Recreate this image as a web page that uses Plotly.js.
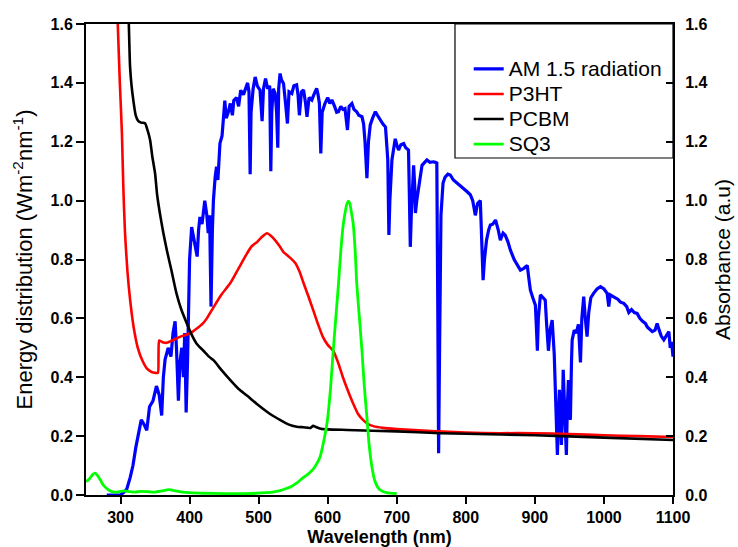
<!DOCTYPE html>
<html>
<head>
<meta charset="utf-8">
<script src="https://cdn.plot.ly/plotly-3.0.1.min.js"></script>
<style>html,body{margin:0;padding:0;background:#fff}#chart{width:738px;height:547px}</style>
</head>
<body>
<div id="chart"></div>
<script>
// AM 1.5 solar radiation (Wm-2 nm-1)
const am15Wl = [280,300,305,309,314,318,322,326,330,334,338,342,347,352,356,359.6,362,364.5,369,373,376,379,381,383.8,386,388.7,391,393,395,397,398,400,403,406,408,411,413,415,418,422,425,427,429,431,433,434.5,437,439,441,444,447,451,453,456,459,462,464,468,471,474,478,481,484,486,487.7,489,492,495,498,502,505,507,510,513,516,517.6,519,521,524,526,527.7,529,531,533,536,539,541.7,544,548,551,555,557,559,562,565,568,570,573,577,580,584,586,588,590,592,596,600,603,606,610,613,615.6,619,622,625,628.6,631,635,638,642,645,649.6,652,654,656.8,659,661.6,665,669,672,676,680,683.7,686,687,688.6,690,693,696,697.8,700,702.6,706,710,713,717,718,719.6,721,724.4,726,727,729,731.7,734,736.6,740,743.6,748,753,756,758,759.5,760.6,762,764,767,770,774,777.5,782,787,792,797,802,806.5,810,813.8,817,821,823,825,827,830,833,835.5,839,843,847,850,854,857,861,864.5,870,875,879,884,889,891,893.5,897,900.7,902,903.6,905,908,912,915,917,919.6,922,925,928,930,932.6,934,935.5,937,938.4,940,941,943,945.6,947,948.6,950,951.4,953,954,957,960,963,966,968,970.7,973,975.6,978,981,985,990,995,1000,1004.6,1007,1009,1014,1020,1024,1028.7,1033,1036,1040,1044,1048,1052,1056,1060,1063,1066,1070,1074,1077,1080,1083,1086.7,1090,1094,1096,1098,1100];
const am15Val = [0,0,0.01,0.02,0.06,0.10,0.16,0.21,0.255,0.24,0.22,0.30,0.32,0.37,0.34,0.27,0.40,0.46,0.50,0.47,0.55,0.59,0.50,0.32,0.45,0.50,0.40,0.55,0.28,0.45,0.64,0.80,0.91,0.87,0.855,0.81,0.90,0.945,0.92,1.00,0.95,0.89,0.95,0.64,0.90,1.00,1.08,1.115,1.07,1.195,1.22,1.34,1.28,1.30,1.33,1.29,1.34,1.35,1.32,1.375,1.36,1.38,1.40,1.37,1.09,1.30,1.38,1.42,1.39,1.375,1.27,1.38,1.415,1.38,1.39,1.10,1.30,1.38,1.364,1.30,1.18,1.38,1.432,1.41,1.398,1.33,1.262,1.37,1.364,1.39,1.393,1.36,1.29,1.37,1.376,1.33,1.285,1.35,1.342,1.36,1.381,1.36,1.33,1.16,1.30,1.33,1.35,1.33,1.342,1.32,1.30,1.302,1.32,1.31,1.313,1.24,1.32,1.33,1.31,1.302,1.29,1.285,1.26,1.20,1.076,1.20,1.257,1.28,1.302,1.29,1.274,1.26,1.25,1.19,1.138,0.883,1.00,1.138,1.19,1.21,1.19,1.172,1.19,1.194,1.18,1.172,1.05,0.843,0.95,1.12,1.05,0.958,1.00,1.036,1.08,1.12,1.13,1.138,1.13,1.132,1.13,1.128,0.60,0.142,0.50,0.95,1.06,1.08,1.09,1.087,1.07,1.06,1.053,1.04,1.03,1.02,1.00,0.95,0.99,1.00,0.85,0.73,0.80,0.866,0.90,0.917,0.92,0.934,0.90,0.866,0.89,0.883,0.86,0.832,0.80,0.78,0.764,0.77,0.78,0.74,0.696,0.67,0.645,0.58,0.49,0.60,0.68,0.67,0.662,0.58,0.49,0.56,0.594,0.48,0.323,0.136,0.25,0.357,0.28,0.17,0.30,0.425,0.30,0.136,0.30,0.39,0.33,0.255,0.45,0.527,0.56,0.55,0.58,0.45,0.60,0.674,0.60,0.538,0.62,0.67,0.685,0.70,0.708,0.70,0.685,0.64,0.68,0.674,0.665,0.655,0.651,0.64,0.62,0.63,0.62,0.617,0.60,0.59,0.583,0.57,0.565,0.555,0.56,0.583,0.56,0.54,0.527,0.54,0.555,0.50,0.52,0.47];

// P3HT absorbance
const p3htWl = [294,296,299,302,304,306.5,310,314,319,325,331,338,345,350,354,355,356,360,367,375,386,401,410,420,425,434,446,459,471,483,490,498,505,512,518,524,531,536,541,547,553,559,565,572,579,586,593,600,608,615,622,630,637,644,651,658,666,680,700,750,800,850,900,950,1000,1050,1100];
const p3htVal = [1.75,1.60,1.40,1.23,1.05,0.89,0.76,0.66,0.57,0.50,0.46,0.43,0.418,0.415,0.415,0.47,0.525,0.52,0.517,0.525,0.537,0.55,0.565,0.585,0.60,0.635,0.68,0.72,0.77,0.82,0.845,0.86,0.877,0.889,0.88,0.865,0.843,0.825,0.815,0.803,0.788,0.76,0.72,0.675,0.628,0.58,0.537,0.51,0.49,0.45,0.40,0.35,0.31,0.275,0.255,0.242,0.234,0.228,0.224,0.217,0.212,0.21,0.21,0.207,0.203,0.20,0.197];

// PCBM absorbance
const pcbmWl = [310,312,313.8,316,318.6,322,325.8,330,335.5,339,342.8,346,350,353,357,362,367,374,381,388,396,403,410,420,428,434.6,446,459,471,483,497,512,520,531,543,555,565,575,579,582,590,600,628,700,763,800,900,1000,1100];
const pcbmVal = [1.75,1.60,1.455,1.39,1.34,1.29,1.27,1.265,1.263,1.24,1.206,1.15,1.093,1.02,0.957,0.89,0.832,0.76,0.685,0.63,0.583,0.545,0.515,0.49,0.47,0.458,0.425,0.39,0.36,0.338,0.31,0.283,0.27,0.255,0.24,0.232,0.23,0.228,0.235,0.232,0.225,0.223,0.221,0.216,0.21,0.208,0.203,0.195,0.187];

// SQ3 absorbance
const sq3Wl = [250,255,260,263,267,271,275,280,285,289,295,300,305,310,320,330,340,350,360,370,380,390,400,420,450,480,497,510,520,531,540,548,555,565,572,579,585,589,594,599,604,608,612,615.7,619,622.6,626,628,630,632,634,637,640,642,646,649.6,653,656.7,660,664,668,672,676,685,700];
const sq3Val = [0.045,0.055,0.07,0.074,0.065,0.05,0.034,0.022,0.014,0.011,0.01,0.012,0.014,0.012,0.01,0.012,0.011,0.01,0.014,0.018,0.014,0.01,0.008,0.006,0.005,0.005,0.006,0.008,0.01,0.015,0.022,0.03,0.04,0.06,0.072,0.088,0.11,0.13,0.18,0.244,0.36,0.49,0.61,0.72,0.83,0.92,0.97,0.99,0.998,0.99,0.965,0.92,0.82,0.72,0.60,0.49,0.37,0.266,0.17,0.096,0.05,0.028,0.017,0.008,0.005];

const seriesNames = ['AM 1.5 radiation','P3HT','PCBM','SQ3'];
const xTitle = 'Wavelength (nm)';
const yTitle = 'Energy distribution (Wm<sup>-2</sup>nm<sup>-1</sup>)';
const y2Title = 'Absorbance (a.u)';

const FONT = 'Liberation Sans, Arial, sans-serif';
const legendName = s => '<span style="font-size:21px">' + s + '</span>';

const traces = [
  {x: am15Wl, y: am15Val, name: legendName(seriesNames[0]), mode: 'lines', line: {color: '#0000ff', width: 3.2}, yaxis: 'y'},
  {x: p3htWl, y: p3htVal, name: legendName(seriesNames[1]), mode: 'lines', line: {color: '#ff0000', width: 2.6, shape: 'spline', smoothing: 0.6}, yaxis: 'y2'},
  {x: pcbmWl, y: pcbmVal, name: legendName(seriesNames[2]), mode: 'lines', line: {color: '#000000', width: 2.6, shape: 'spline', smoothing: 0.6}, yaxis: 'y2'},
  {x: sq3Wl, y: sq3Val, name: legendName(seriesNames[3]), mode: 'lines', line: {color: '#00ff00', width: 2.8, shape: 'spline', smoothing: 0.6}, yaxis: 'y2'}
];

const tickFont = {family: FONT, size: 16, color: '#000', weight: 'bold'};

const layout = {
  width: 738, height: 547,
  margin: {l: 86, r: 65, t: 24, b: 52},
  paper_bgcolor: '#fff', plot_bgcolor: '#fff',
  font: {family: FONT, color: '#000'},
  showlegend: true,
  legend: {x: 0.652, y: 0.942, xanchor: 'left', yanchor: 'top', bgcolor: 'rgba(0,0,0,0)',
           font: {family: FONT, size: 17, color: '#000'}, tracegroupgap: 0},
  xaxis: {
    range: [250, 1100], dtick: 100, tick0: 0,
    showgrid: false, zeroline: false,
    showline: true, linecolor: '#000', linewidth: 2, mirror: true,
    ticks: 'outside', ticklen: 7, tickwidth: 2, tickcolor: '#000',
    tickfont: tickFont,
    title: {text: xTitle, font: {family: FONT, size: 18, weight: 'bold', color: '#000'}, standoff: 17}
  },
  yaxis: {
    range: [0, 1.6], dtick: 0.2, tick0: 0, tickformat: '.1f',
    showgrid: false, zeroline: false,
    showline: true, linecolor: '#000', linewidth: 2,
    ticks: 'outside', ticklen: 8, tickwidth: 2, tickcolor: '#000',
    tickfont: tickFont,
    title: {text: yTitle, font: {family: FONT, size: 22, color: '#000'}, standoff: 12}
  },
  yaxis2: {
    range: [0, 1.6], dtick: 0.2, tick0: 0, tickformat: '.1f',
    overlaying: 'y', side: 'right',
    showgrid: false, zeroline: false,
    showline: true, linecolor: '#000', linewidth: 2,
    ticks: 'inside', ticklen: 7, tickwidth: 2, tickcolor: '#000',
    ticklabelstandoff: 7,
    tickfont: tickFont,
    title: {text: y2Title, font: {family: FONT, size: 21, color: '#000'}, standoff: 9}
  },
  shapes: [
    {type: 'rect', xref: 'paper', yref: 'paper', x0: 0.6286, x1: 1, y0: 0.7155, y1: 1,
     line: {color: '#000', width: 1.2}, fillcolor: 'rgba(0,0,0,0)'}
  ]
};

Plotly.newPlot('chart', traces, layout, {displayModeBar: false, staticPlot: true});
</script>
</body>
</html>
